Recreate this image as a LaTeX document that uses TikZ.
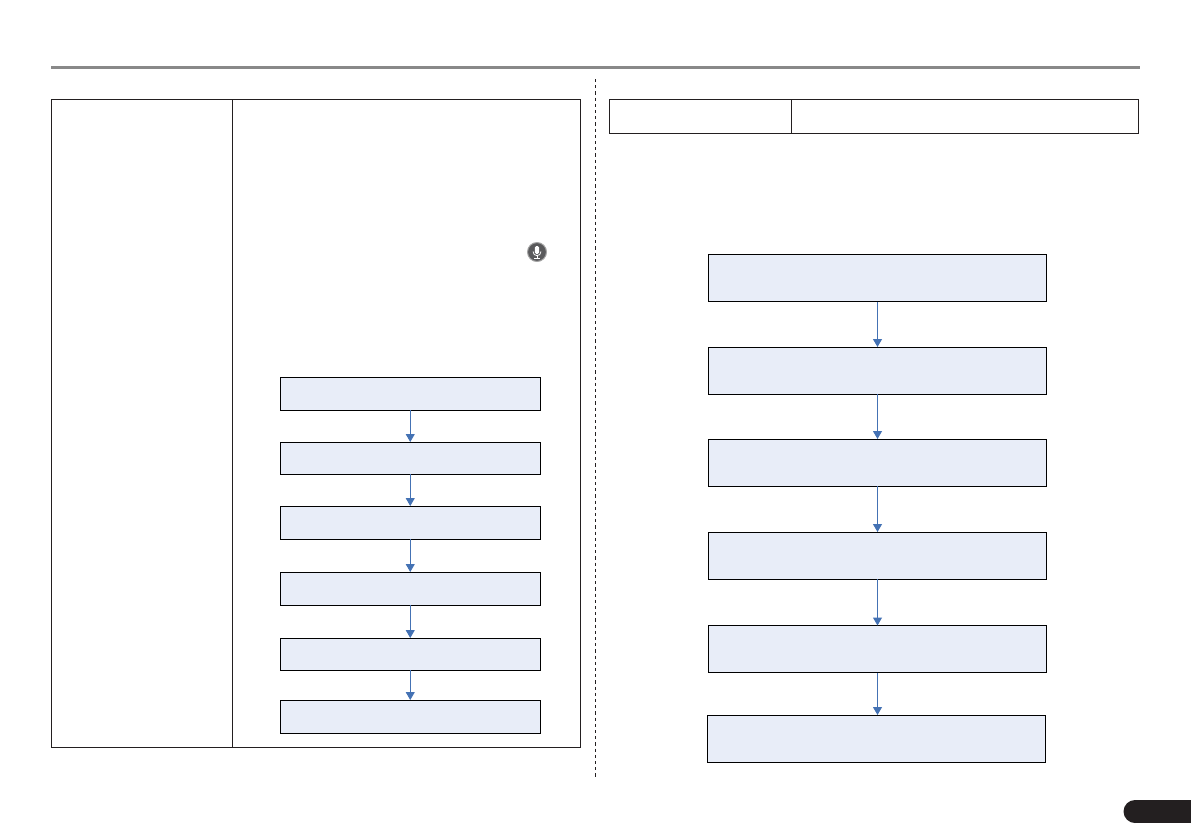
\documentclass[tikz,border=0pt]{standalone}
\usetikzlibrary{arrows.meta}
\definecolor{boxfill}{HTML}{E8EDF8}
\definecolor{flowblue}{HTML}{4472B4}
\definecolor{rulegray}{HTML}{898989}
\definecolor{inkblack}{HTML}{231F20}
\definecolor{micgray}{HTML}{5A5A5C}
\begin{document}
\begin{tikzpicture}[x=1pt,y=-1pt,
  flowbox/.style={draw=black,line width=.75pt,fill=boxfill,inner sep=0pt,outer sep=0pt,rectangle},
  smallflow/.style={flowbox,minimum width=260.5pt},
  bigflow/.style={flowbox,minimum width=337.5pt,minimum height=47pt},
  cell/.style={draw=inkblack,line width=.8pt,inner sep=0pt,outer sep=0pt,rectangle},
  flowarrow/.style={draw=flowblue,line width=1pt,-{Triangle[length=8pt,width=9pt]}}]
\useasboundingbox (0,0) rectangle (1191,839);
% header rule and column separator
\coordinate (ruleL) at (51,67.5);
\coordinate (ruleR) at (1140,67.5);
\draw[rulegray,line width=3pt] (ruleL) -- (ruleR);
\coordinate (sepT) at (595.5,79);
\coordinate (sepB) at (595.5,777);
\draw[inkblack,line width=.9pt,dash pattern=on 3.2pt off 3pt] (sepT) -- (sepB);
% left table
\node[cell,minimum width=181pt,minimum height=648pt] (lta) at (142,423) {};
\node[cell,minimum width=348pt,minimum height=648pt] (ltb) at (406.5,423) {};
% right table
\node[cell,minimum width=182pt,minimum height=34pt] (rta) at (700.5,116) {};
\node[cell,minimum width=347pt,minimum height=34pt] (rtb) at (965,116) {};
% microphone icon
\node[circle,fill=micgray,draw=gray!70,line width=1pt,minimum size=19pt,inner sep=0pt] (mic) at (537,252) {};
\fill[white,rounded corners=1.6pt] (534.8,246) rectangle (539.2,254);
\draw[white,line width=.8pt] (533,251.5) .. controls (533,257) and (541,257) .. (541,251.5);
\draw[white,line width=.9pt] (537,255.5) -- (537,258.2) (534,258.4) -- (540,258.4);
% left flow
\node[smallflow,minimum height=33pt] (a1) at (410.25,393.5) {};
\node[smallflow,minimum height=32pt] (a2) at (410.25,458) {};
\node[smallflow,minimum height=33pt] (a3) at (410.25,522.5) {};
\node[smallflow,minimum height=33pt] (a4) at (410.25,588.5) {};
\node[smallflow,minimum height=32pt] (a5) at (410.25,654) {};
\node[smallflow,minimum height=33pt] (a6) at (410.25,716.5) {};
\foreach \p/\q in {a1/a2,a2/a3,a3/a4,a4/a5,a5/a6}
  \draw[flowarrow] (\p) -- (\q);
% right flow
\node[bigflow] (b1) at (877.5,278) {};
\node[bigflow] (b2) at (877.5,370.5) {};
\node[bigflow] (b3) at (877.5,462.5) {};
\node[bigflow] (b4) at (877.5,555.5) {};
\node[bigflow] (b5) at (877.5,649) {};
\node[bigflow] (b6) at (876.25,738.5) {};
\foreach \p/\q in {b1/b2,b2/b3,b3/b4,b4/b5}
  \draw[flowarrow] (\p) -- (\q);
\draw[flowarrow] (b5.south -| b5.center) -- (b5.south |- b6.north);
% page tab
\fill[inkblack] (1135,811.5) circle[radius=11.5];
\fill[inkblack] (1135,800) rectangle (1190.5,823);
\end{tikzpicture}
\end{document}
